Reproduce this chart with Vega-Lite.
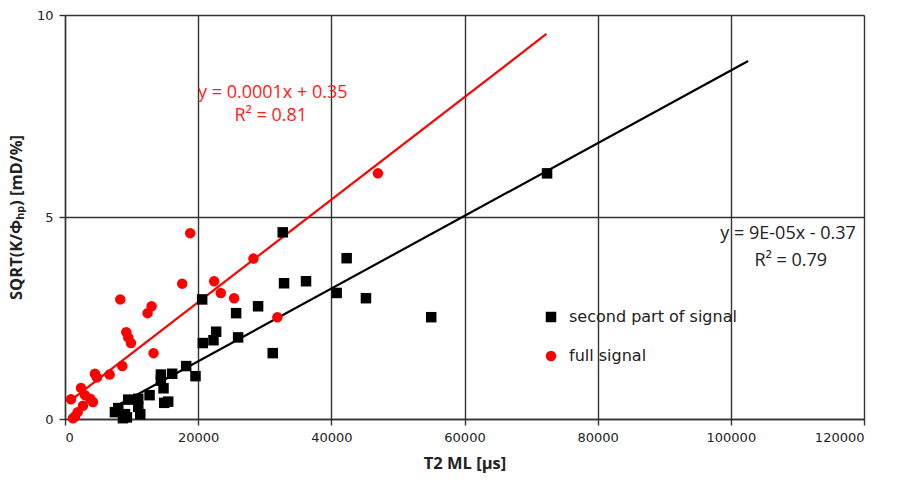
{
  "$schema": "https://vega.github.io/schema/vega-lite/v6.json",
  "autosize": "none",
  "width": 799,
  "height": 404,
  "padding": {"left": 65, "top": 15, "right": 33, "bottom": 62},
  "background": "white",
  "datasets": {
    "points": [
      {"t2": 47000, "k": 6.08, "series": "full signal"},
      {"t2": 18800, "k": 4.60, "series": "full signal"},
      {"t2": 28300, "k": 3.97, "series": "full signal"},
      {"t2": 17600, "k": 3.35, "series": "full signal"},
      {"t2": 22400, "k": 3.41, "series": "full signal"},
      {"t2": 23400, "k": 3.12, "series": "full signal"},
      {"t2": 25400, "k": 2.99, "series": "full signal"},
      {"t2": 31900, "k": 2.52, "series": "full signal"},
      {"t2": 8300, "k": 2.96, "series": "full signal"},
      {"t2": 13000, "k": 2.79, "series": "full signal"},
      {"t2": 12400, "k": 2.62, "series": "full signal"},
      {"t2": 9200, "k": 2.15, "series": "full signal"},
      {"t2": 9500, "k": 2.02, "series": "full signal"},
      {"t2": 9900, "k": 1.88, "series": "full signal"},
      {"t2": 13300, "k": 1.63, "series": "full signal"},
      {"t2": 8600, "k": 1.31, "series": "full signal"},
      {"t2": 4500, "k": 1.12, "series": "full signal"},
      {"t2": 4800, "k": 1.03, "series": "full signal"},
      {"t2": 6700, "k": 1.10, "series": "full signal"},
      {"t2": 2400, "k": 0.77, "series": "full signal"},
      {"t2": 900, "k": 0.49, "series": "full signal"},
      {"t2": 3000, "k": 0.59, "series": "full signal"},
      {"t2": 3800, "k": 0.50, "series": "full signal"},
      {"t2": 4200, "k": 0.42, "series": "full signal"},
      {"t2": 2700, "k": 0.33, "series": "full signal"},
      {"t2": 1900, "k": 0.17, "series": "full signal"},
      {"t2": 1500, "k": 0.06, "series": "full signal"},
      {"t2": 1200, "k": 0.02, "series": "full signal"},
      {"t2": 72400, "k": 6.08, "series": "second part of signal"},
      {"t2": 32700, "k": 4.62, "series": "second part of signal"},
      {"t2": 42300, "k": 3.98, "series": "second part of signal"},
      {"t2": 32900, "k": 3.36, "series": "second part of signal"},
      {"t2": 36200, "k": 3.41, "series": "second part of signal"},
      {"t2": 40800, "k": 3.12, "series": "second part of signal"},
      {"t2": 45200, "k": 2.99, "series": "second part of signal"},
      {"t2": 55000, "k": 2.52, "series": "second part of signal"},
      {"t2": 29000, "k": 2.79, "series": "second part of signal"},
      {"t2": 25700, "k": 2.62, "series": "second part of signal"},
      {"t2": 20600, "k": 2.96, "series": "second part of signal"},
      {"t2": 22700, "k": 2.16, "series": "second part of signal"},
      {"t2": 22300, "k": 1.95, "series": "second part of signal"},
      {"t2": 20700, "k": 1.88, "series": "second part of signal"},
      {"t2": 26000, "k": 2.02, "series": "second part of signal"},
      {"t2": 31200, "k": 1.63, "series": "second part of signal"},
      {"t2": 18200, "k": 1.31, "series": "second part of signal"},
      {"t2": 19600, "k": 1.06, "series": "second part of signal"},
      {"t2": 16100, "k": 1.12, "series": "second part of signal"},
      {"t2": 14400, "k": 1.10, "series": "second part of signal"},
      {"t2": 14400, "k": 0.95, "series": "second part of signal"},
      {"t2": 14800, "k": 0.76, "series": "second part of signal"},
      {"t2": 12700, "k": 0.59, "series": "second part of signal"},
      {"t2": 15500, "k": 0.43, "series": "second part of signal"},
      {"t2": 14900, "k": 0.40, "series": "second part of signal"},
      {"t2": 11000, "k": 0.50, "series": "second part of signal"},
      {"t2": 9500, "k": 0.48, "series": "second part of signal"},
      {"t2": 8000, "k": 0.27, "series": "second part of signal"},
      {"t2": 7500, "k": 0.17, "series": "second part of signal"},
      {"t2": 9000, "k": 0.12, "series": "second part of signal"},
      {"t2": 11300, "k": 0.12, "series": "second part of signal"},
      {"t2": 9300, "k": 0.04, "series": "second part of signal"},
      {"t2": 11000, "k": 0.30, "series": "second part of signal"},
      {"t2": 8700, "k": 0.02, "series": "second part of signal"}
    ],
    "trends": [
      {"t2": 1000, "k": 0.48, "series": "full signal"},
      {"t2": 72300, "k": 9.53, "series": "full signal"},
      {"t2": 7500, "k": 0.305, "series": "second part of signal"},
      {"t2": 102600, "k": 8.86, "series": "second part of signal"}
    ],
    "equations": [
      {"t2": 31200, "k": 8.08, "label": "y = 0.0001x + 0.35", "series": "full signal"},
      {"t2": 30900, "k": 7.49, "label": "R² = 0.81", "series": "full signal"},
      {"t2": 108600, "k": 4.57, "label": "y = 9E-05x - 0.37", "series": "second part of signal"},
      {"t2": 109000, "k": 3.91, "label": "R² = 0.79", "series": "second part of signal"}
    ]
  },
  "config": {
    "view": {"stroke": null},
    "axis": {
      "grid": true,
      "gridColor": "#333333",
      "gridWidth": 1.4,
      "domainColor": "#333333",
      "domainWidth": 1.4,
      "tickColor": "#333333",
      "tickWidth": 1.4,
      "tickSize": 6,
      "labelFont": "DejaVu Sans",
      "labelFontSize": 13,
      "labelColor": "#222222",
      "titleFont": "Open Sans",
      "titleFontSize": 16.5,
      "titleFontWeight": "bold",
      "titleColor": "#222222"
    }
  },
  "encoding": {
    "x": {
      "field": "t2",
      "type": "quantitative",
      "scale": {"domain": [0, 120000], "nice": false},
      "axis": {"title": "T2 ML [µs]", "values": [0, 20000, 40000, 60000, 80000, 100000, 120000], "format": "d", "labelPadding": 6, "titlePadding": 11}
    },
    "y": {
      "field": "k",
      "type": "quantitative",
      "scale": {"domain": [0, 10], "nice": false},
      "axis": {"title": "SQRT(K/Φₕₚ) [mD/%]", "values": [0, 5, 10], "labelPadding": 6, "titlePadding": 12}
    }
  },
  "layer": [
    {
      "data": {"name": "trends"},
      "transform": [{"filter": "datum.series == 'full signal'"}],
      "mark": {"type": "line", "strokeWidth": 2.2, "color": "#ff0000"},
      "encoding": {}
    },
    {
      "data": {"name": "trends"},
      "transform": [{"filter": "datum.series == 'second part of signal'"}],
      "mark": {"type": "line", "strokeWidth": 2.2, "color": "#000000"},
      "encoding": {}
    },
    {
      "data": {"name": "points"},
      "mark": {"type": "point", "filled": true, "opacity": 1, "size": 110},
      "encoding": {
        "color": {"field": "series", "type": "nominal", "scale": {"domain": ["second part of signal", "full signal"], "range": ["#000000", "#ff0000"]}, "legend": {"title": null, "orient": "none", "legendX": 478, "legendY": 294, "padding": 0, "symbolSize": 110, "symbolOpacity": 1, "labelFont": "DejaVu Sans", "labelFontSize": 16, "labelLimit": 400, "labelColor": "#222222", "labelOffset": 10, "rowPadding": 21}},
        "shape": {"field": "series", "type": "nominal", "scale": {"domain": ["second part of signal", "full signal"], "range": ["square", "circle"]}}
      }
    },
    {
      "data": {"name": "equations"},
      "transform": [{"filter": "datum.series == 'full signal'"}],
      "mark": {"type": "text", "font": "Open Sans", "fontSize": 18, "color": "#ff2020", "align": "center", "baseline": "middle"},
      "encoding": {"text": {"field": "label"}}
    },
    {
      "data": {"name": "equations"},
      "transform": [{"filter": "datum.series == 'second part of signal'"}],
      "mark": {"type": "text", "font": "Open Sans", "fontSize": 18, "color": "#222222", "align": "center", "baseline": "middle"},
      "encoding": {"text": {"field": "label"}}
    }
  ]
}
